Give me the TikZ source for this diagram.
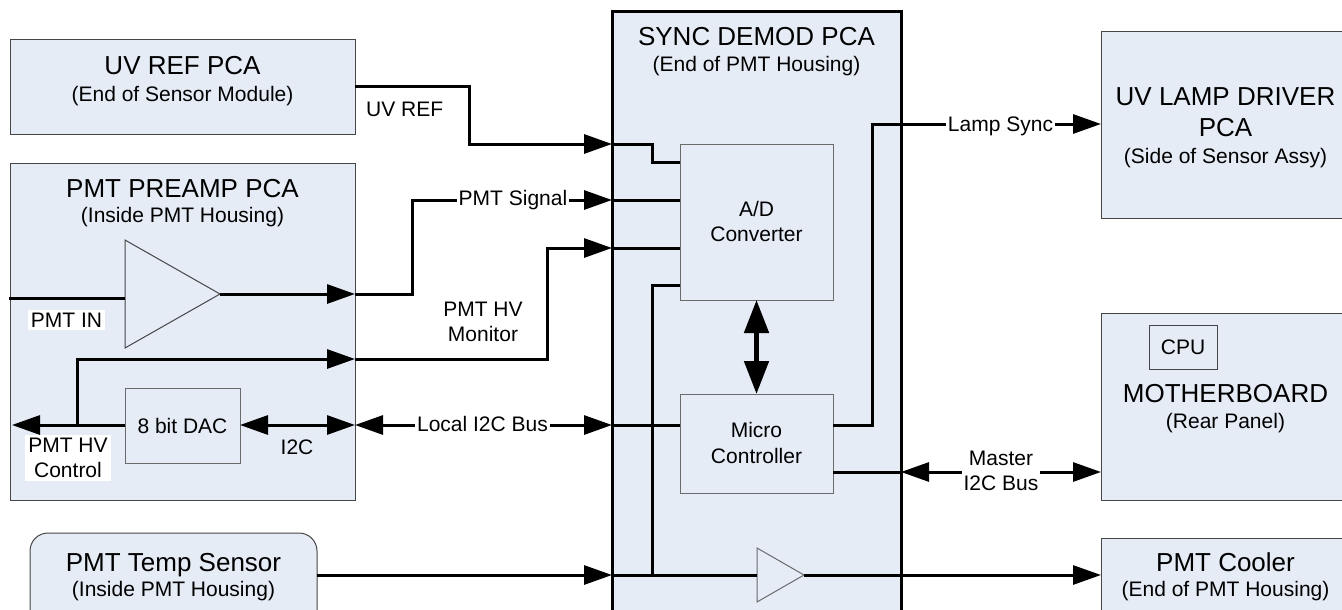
\documentclass[tikz,border=0pt]{standalone}
\usepackage{fontspec}
\setmainfont{Liberation Sans}
\usetikzlibrary{arrows.meta,calc}
\definecolor{pcafill}{RGB}{229,236,246}
\definecolor{edgegray}{RGB}{70,70,70}
\begin{document}
\begin{tikzpicture}[x=1pt,y=-1pt,
  pcabox/.style={draw=edgegray, line width=1pt, fill=pcafill, inner sep=0pt, outer sep=0pt, anchor=north west},
  ttl/.style={font=\fontsize{26}{30}\selectfont, anchor=base, inner sep=0pt},
  subt/.style={font=\fontsize{21}{25}\selectfont, anchor=base, inner sep=0pt},
  lbl/.style={font=\fontsize{21}{25}\selectfont, inner sep=0pt},
  whitelbl/.style={font=\fontsize{21}{25}\selectfont, fill=white, inner xsep=2pt, inner ysep=2pt},
  wire/.style={line width=3pt, line join=miter},
  tip/.style={-{Triangle[length=28pt,width=19pt]}},
  tiptwo/.style={{Triangle[length=28pt,width=19pt]}-{Triangle[length=28pt,width=19pt]}},
  amptri/.style={draw=edgegray, line width=1pt, fill=pcafill, line join=miter}
]
\clip (0,0) rectangle (1342,610);
\fill[white] (0,0) rectangle (1342,610);

% boxes
\node[pcabox, minimum width=345pt, minimum height=94pt] (uvref) at (10,40) {};
\node[pcabox, minimum width=345pt, minimum height=337pt] (preamp) at (10,163) {};
\node[pcabox, minimum width=287pt, minimum height=100pt, rounded corners=18pt] (temp) at (30,533) {};
\node[pcabox, draw=black, line width=3pt, minimum width=289pt, minimum height=640pt] (sync) at (612,12) {};
\node[pcabox, minimum width=249pt, minimum height=186pt] (lamp) at (1101,32) {};
\node[pcabox, minimum width=249pt, minimum height=187pt] (mother) at (1101,313) {};
\node[pcabox, minimum width=249pt, minimum height=100pt] (cooler) at (1101,538) {};
\node[pcabox, minimum width=68pt, minimum height=44pt, font=\fontsize{21}{25}\selectfont] (cpu) at (1149,325) {CPU};
\node[pcabox, draw=edgegray!80, minimum width=153pt, minimum height=156pt] (ad) at (680,144) {};
\node[pcabox, draw=edgegray!80, minimum width=153pt, minimum height=99pt] (micro) at (680,394) {};
\node[pcabox, draw=edgegray!80, minimum width=115pt, minimum height=75pt, font=\fontsize{21}{25}\selectfont] (dac) at (125,388) {8 bit DAC};

% amplifiers
\coordinate (ampin) at (125,298);
\coordinate (ampout) at (220,294);
\draw[amptri] (125,240) -- (ampout) -- (125,348) -- cycle;
\coordinate (bufin) at (757,575);
\coordinate (bufout) at (804,575);
\draw[amptri, draw=edgegray!80] (757,548) -- (bufout) -- (757,602) -- cycle;

% free ends
\coordinate (pmtin) at (9,298);
\coordinate (hvctl) at (12,425);
\coordinate (hvjn) at (77,425);
\coordinate (busjn) at (652,285);

% wires
\draw[wire, tip] (uvref.east) -| (469,144) -- (sync.west |- 0,144);
\draw[wire] (sync.west |- 0,144) -- (652,144) |- (ad.west |- 0,162);

\draw[wire] (pmtin) -- (ampin);
\draw[wire, tip] (ampout) -- (preamp.east |- ampout);
\draw[wire, tip] (preamp.east |- ampout) -- (412,294) |- (sync.west |- 0,200);
\draw[wire] (sync.west |- 0,200) -- (ad.west |- 0,200);

\draw[wire, tip] (dac.west |- hvctl) -- (hvctl);
\draw[wire, tip] (hvjn) |- (preamp.east |- 0,359);
\draw[wire, tip] (preamp.east |- 0,359) -- (547,359) |- (sync.west |- 0,248);
\draw[wire] (sync.west |- 0,248) -- (ad.west |- 0,248);

\draw[wire, tiptwo] (dac.east |- 0,425) -- (preamp.east |- 0,425);
\draw[wire, tiptwo] (preamp.east |- 0,425) -- (sync.west |- 0,425);
\draw[wire] (sync.west |- 0,425) -- (micro.west |- 0,425);

\draw[wire] (ad.west |- busjn) -- (busjn) -- (busjn |- bufin);

\draw[wire, tip] (temp.east |- 0,575) -- (sync.west |- 0,575);
\draw[wire] (sync.west |- 0,575) -- (bufin);
\draw[wire, tip] (bufout) -- (cooler.west |- bufout);

\draw[wire, tip] (micro.east |- 0,425) -- (872,425) |- (lamp.west |- 0,124);
\draw[wire] (micro.east |- 0,472) -- (sync.east |- 0,472);
\draw[wire, tiptwo] (sync.east |- 0,472) -- (mother.west |- 0,472);

\draw[line width=5pt, {Triangle[length=33pt,width=24pt]}-{Triangle[length=33pt,width=24pt]}] (ad.south) -- (micro.north);

% box texts
\node[ttl] (t1) at (182.5,75) {UV REF PCA};
\node[subt] (t2) at (182.5,101) {(End of Sensor Module)};
\node[ttl] (t3) at (182.5,197) {PMT PREAMP PCA};
\node[subt] (t4) at (182.5,222) {(Inside PMT Housing)};
\node[ttl] (t5) at (756.5,46) {SYNC DEMOD PCA};
\node[subt] (t6) at (756.5,72) {(End of PMT Housing)};
\node[ttl] (t7) at (1225.5,106) {UV LAMP DRIVER};
\node[ttl] (t8) at (1225.5,136) {PCA};
\node[subt] (t9) at (1225.5,163) {(Side of Sensor Assy)};
\node[ttl] (t10) at (1225.5,402) {MOTHERBOARD};
\node[subt] (t11) at (1225.5,428) {(Rear Panel)};
\node[ttl] (t12) at (1225.5,571) {PMT Cooler};
\node[subt] (t13) at (1225.5,596) {(End of PMT Housing)};
\node[ttl] (t14) at (173.5,571) {PMT Temp Sensor};
\node[subt] (t15) at (173.5,596) {(Inside PMT Housing)};
\node[subt] (t16) at (756.5,216) {A/D};
\node[subt] (t17) at (756.5,241) {Converter};
\node[subt] (t18) at (756.5,437) {Micro};
\node[subt] (t19) at (756.5,463) {Controller};

% connector labels
\node[lbl, anchor=base west] (l1) at (366,117) {UV REF};
\node[whitelbl, anchor=base] (l2) at (513,205) {PMT Signal};
\node[lbl, align=center] (l3) at (483,322) {PMT HV\\Monitor};
\node[whitelbl, anchor=base] (l4) at (482.5,431) {Local I2C Bus};
\node[lbl, anchor=base] (l5) at (297,454) {I2C};
\node[whitelbl, anchor=base, inner sep=3pt] (l6) at (66.5,327) {PMT IN};
\node[whitelbl, align=center, inner sep=3pt] (l7) at (68,458) {PMT HV\\Control};
\node[whitelbl, anchor=base] (l8) at (1000.5,131) {Lamp Sync};
\node[whitelbl, align=center] (l9) at (1001,471) {Master\\I2C Bus};
\end{tikzpicture}
\end{document}
